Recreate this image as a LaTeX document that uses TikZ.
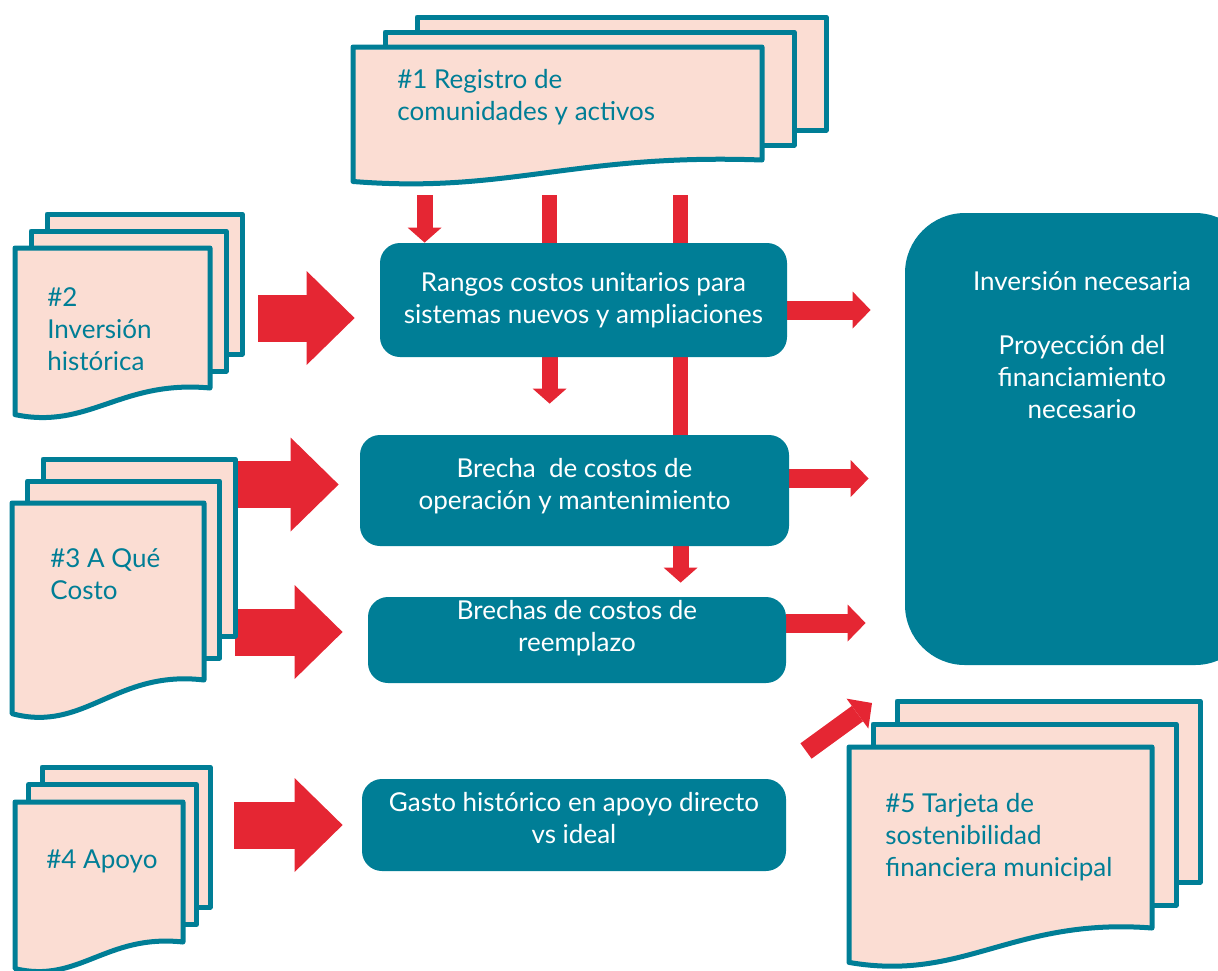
\documentclass[tikz,border=0pt]{standalone}
\usepackage{fontspec}
\setmainfont{Lato}
\usetikzlibrary{arrows.meta,backgrounds}

\definecolor{docteal}{HTML}{007E96}
\definecolor{docpink}{HTML}{FBDDD3}
\definecolor{arrowred}{HTML}{E52633}

% stack of three pages: name, x, y (front page top left), width, height, dx, dy
\newcommand{\pagestack}[7]{%
  \foreach \pg in {2,1}
    \draw[page] ({#2+\pg*#6},{#3-\pg*#7}) rectangle ++(#4,#5);
  \draw[page] (#2,#3) -- ++(#4,0) -- ++(0,#5)
    .. controls ({#2+0.54*#4},{#3+0.94*#5}) and ({#2+0.38*#4},{#3+1.3*#5}) .. ({#2},{#3+1.19*#5}) -- cycle;
  \node[pagearea, minimum width=#4*0.5pt, minimum height=#5*0.5pt] (#1) at ({#2+#4/2},{#3+#5/2}) {};
}

\begin{document}
\begin{tikzpicture}[x=0.5pt,y=-0.5pt,
  page/.style={draw=docteal, fill=docpink, line width=2.5pt, line join=round},
  pagearea/.style={inner sep=0pt},
  doctext/.style={anchor=north west, inner sep=0pt, align=left, text=docteal,
    font=\fontsize{13}{16}\selectfont},
  tealbox/.style={fill=docteal, rounded corners=10pt, inner sep=0pt, align=center,
    text=white, font=\fontsize{13}{16}\selectfont},
  bigbox/.style={fill=docteal, rounded corners=30pt, inner sep=0pt},
  boxtext/.style={anchor=north, inner sep=0pt, align=center, text=white,
    font=\fontsize{13}{16}\selectfont},
  fatarrow/.style={arrowred, line width=23.5pt, -{Triangle[length=24pt,width=47pt,line width=0pt]}},
  slimarrow/.style={arrowred, line width=9.5pt, -{Triangle[length=9pt,width=18.5pt,line width=0pt]}},
  droparrow/.style={arrowred, line width=8pt, -{Triangle[length=7.5pt,width=17pt,line width=0pt]}},
  dropbar/.style={arrowred, line width=7.5pt}
]
\useasboundingbox (0,0) rectangle (1218,970);
\clip (0,0) rectangle (1218,970);

% documents
\pagestack{doc1}{353}{47}{409}{113}{32}{15}
\pagestack{doc2}{15}{248}{195}{140}{16}{17}
\pagestack{doc3}{12}{503}{192}{177}{15.5}{22}
\pagestack{doc4}{15}{802}{168}{140}{13.5}{17.5}
\pagestack{doc5}{849}{747}{303}{181}{24}{23}

\node[doctext] (doc1text) at (397,65.6) {\strut\#1 Registro de\\comunidades y activos};
\node[doctext] (doc2text) at (47,283.6) {\strut\#2\\Inversión\\histórica};
\node[doctext] (doc3text) at (50,544.6) {\strut\#3 A Qué\\Costo};
\node[doctext] (doc4text) at (46,845.6) {\strut\#4 Apoyo};
\node[doctext] (doc5text) at (885,789.6) {\strut\#5 Tarjeta de\\sostenibilidad\\financiera municipal};

% boxes
\node[tealbox, minimum width=203.5pt, minimum height=57pt] (rangos) at (583.5,300)
  {Rangos costos unitarios para\\sistemas nuevos y ampliaciones};
\node[tealbox, minimum width=214.5pt, minimum height=55.5pt, text depth=6.5pt] (brechaom) at (574.5,490.5)
  {Brecha\ \ de costos de\\operación y mantenimiento};
\node[tealbox, minimum width=209pt, minimum height=43pt, text depth=14pt] (reemplazo) at (577,640)
  {Brechas de costos de\\reemplazo};
\node[tealbox, minimum width=212pt, minimum height=46pt, text depth=7pt] (gasto) at (574,825)
  {Gasto histórico en apoyo directo\\vs ideal};
\node[bigbox, minimum width=175pt, minimum height=226pt] (inversion) at (1080,439) {};
\node[boxtext] (invtext) at (1082,267.6)
  {\strut Inversión necesaria\\[16pt]Proyección del\\financiamiento\\necesario};

\coordinate (inB) at ([yshift=3pt]brechaom.west);
\coordinate (inC) at ([yshift=4pt]reemplazo.west);
\coordinate (outA) at ([yshift=-5pt]rangos.east);
\coordinate (outB) at ([yshift=6pt]brechaom.east);
\coordinate (outC) at ([yshift=8.5pt]reemplazo.east);
\coordinate (drop1) at ([xshift=36pt]doc1.south west);
\coordinate (drop2) at ([xshift=98.5pt]doc1.south west);
\coordinate (drop3) at ([xshift=164pt]doc1.south west);
\coordinate (tilttail) at (806,751);
\coordinate (tilttip) at (872,703);

% arrows
\begin{pgfonlayer}{background}
  \draw[fatarrow, shorten <=24pt, shorten >=12.5pt] (doc2.east) -- (doc2.east -| rangos.west);
  \draw[fatarrow, shorten <=15.5pt, shorten >=10.5pt] (doc3.east |- inB) -- (inB);
  \draw[fatarrow, shorten <=15.5pt, shorten >=12.5pt] (doc3.east |- inC) -- (inC);
  \draw[fatarrow, shorten <=25.5pt, shorten >=9.5pt] (doc4.east |- gasto.west) -- (gasto.west);
  \draw[slimarrow, shorten >=17pt] (outA) -- (outA -| inversion.west);
  \draw[slimarrow, shorten >=18pt] (outB) -- (outB -| inversion.west);
  \draw[slimarrow, shorten >=19.5pt] (outC) -- (outC -| inversion.west);
  \draw[droparrow, shorten <=17.5pt] (drop1) -- (drop1 |- rangos.north);
  \draw[dropbar, shorten <=17.5pt] (drop2) -- (drop2 |- rangos.center);
  \draw[dropbar, shorten <=17.5pt] (drop3) -- (drop3 |- brechaom.center);
  \draw[droparrow, shorten >=15.5pt] (drop2 |- rangos.south) -- (drop2 |- brechaom.north);
  \draw[droparrow, shorten >=7pt] (drop3 |- brechaom.south) -- (drop3 |- reemplazo.north);
  \draw[slimarrow] (tilttail) -- (tilttip);
\end{pgfonlayer}
\end{tikzpicture}
\end{document}
